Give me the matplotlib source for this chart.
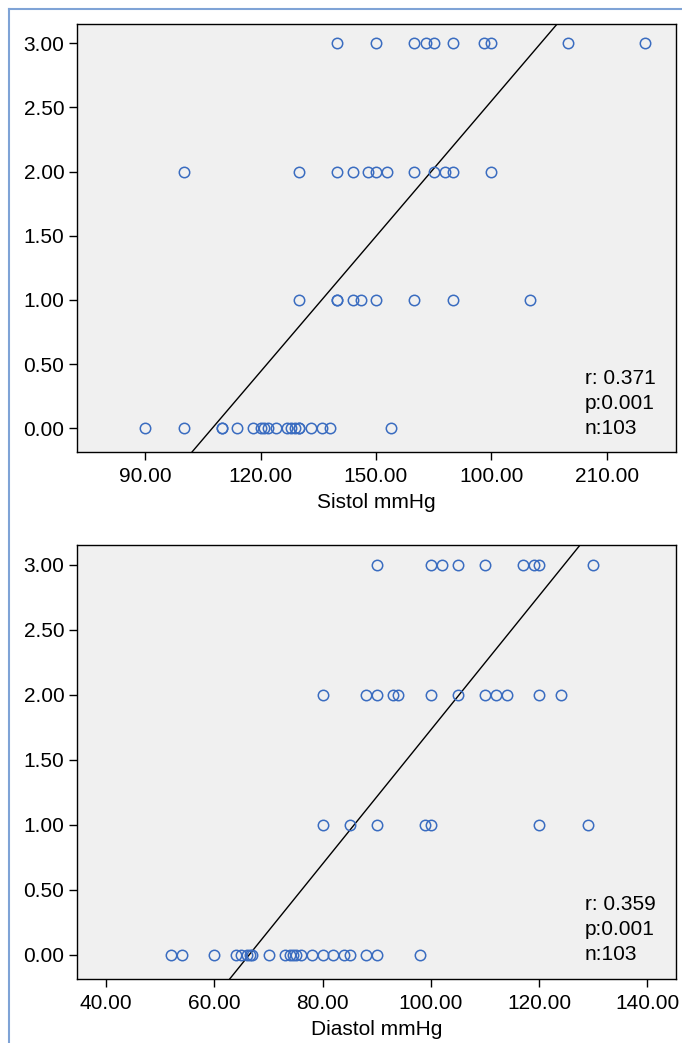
import matplotlib
matplotlib.use('Agg')
import matplotlib.pyplot as plt
from matplotlib.lines import Line2D
import numpy as np

plt.rcParams['font.family'] = ['Liberation Sans', 'DejaVu Sans']

# Sistol (x) vs grade (y), visible points only
sis_x = [90, 100, 110, 110, 114, 118, 120, 121, 122, 124, 127, 128, 129, 130, 130, 133, 136, 138, 154,
         130, 140, 140, 144, 146, 150, 160, 170, 190,
         100, 130, 140, 144, 148, 150, 153, 160, 165, 168, 170, 180,
         140, 150, 160, 163, 165, 170, 178, 180, 200, 220]
sis_y = [0] * 19 + [1] * 9 + [2] * 12 + [3] * 10
sis_ticks = [90, 120, 150, 180, 210]
sis_ticklabels = ['90.00', '120.00', '150.00', '100.00', '210.00']
sis_fit = (0.03514, -3.776)  # slope, intercept
sis_stats = ['r: 0.371', 'p:0.001', 'n:103']

# Diastol (x) vs grade (y)
dia_x = [52, 54, 60, 64, 65, 66, 66.5, 67, 70, 73, 74, 74.5, 75, 76, 78, 80, 82, 84, 85, 88, 90, 98,
         80, 85, 90, 99, 100, 120, 129,
         80, 88, 90, 93, 94, 100, 105, 110, 112, 114, 120, 124,
         90, 100, 102, 105, 110, 117, 119, 120, 130]
dia_y = [0] * 22 + [1] * 7 + [2] * 12 + [3] * 9
dia_ticks = [40, 60, 80, 100, 120, 140]
dia_ticklabels = ['40.00', '60.00', '80.00', '100.00', '120.00', '140.00']
dia_fit = (0.0515, -3.42)
dia_stats = ['r: 0.359', 'p:0.001', 'n:103']

y_ticks = [0, 0.5, 1, 1.5, 2, 2.5, 3]
y_ticklabels = ['%.2f' % v for v in y_ticks]

W, H = 682, 1043
fig = plt.figure(figsize=(W / 100, H / 100), dpi=100)


def panel(rect, xs, ys, xlim, ticks, ticklabels, fit, stats, xlabel):
    ax = fig.add_axes(rect)
    ax.set_facecolor('#f0f0f0')
    ax.plot(xs, ys, 'o', mfc='none', mec='#3a6cc0', ms=7.5, mew=1.1, zorder=3)
    xx = np.array(xlim)
    ax.plot(xx, fit[0] * xx + fit[1], color='black', lw=1.0, zorder=2)
    ax.set_xlim(*xlim)
    ax.set_ylim(-0.185, 3.15)
    ax.set_xticks(ticks)
    ax.set_xticklabels(ticklabels)
    ax.set_yticks(y_ticks)
    ax.set_yticklabels(y_ticklabels)
    ax.tick_params(direction='out', length=6, width=1, labelsize=15, pad=3)
    ax.tick_params(axis='x', pad=5)
    for s in ax.spines.values():
        s.set_linewidth(1.0)
    ax.set_xlabel(xlabel, fontsize=15, labelpad=5)
    trans = ax.get_yaxis_transform()
    for i, t in enumerate(stats):
        ax.text(0.848, 0.39 - i * 0.195, t, transform=trans, fontsize=15,
                va='center', ha='left')
    return ax


panel([77 / W, 1 - 452 / H, 599 / W, 428 / H], sis_x, sis_y, (72.3, 228),
      sis_ticks, sis_ticklabels, sis_fit, sis_stats, 'Sistol mmHg')
panel([77 / W, 1 - 979 / H, 599 / W, 434 / H], dia_x, dia_y, (34.6, 145.3),
      dia_ticks, dia_ticklabels, dia_fit, dia_stats, 'Diastol mmHg')

# light blue frame on top and left
fx, fy = 8.5 / W, 1 - 8.5 / H
fig.add_artist(Line2D([fx, fx], [0, fy], color='#7fa3d6', lw=1.5))
fig.add_artist(Line2D([fx, 1], [fy, fy], color='#7fa3d6', lw=1.5))

fig.savefig('out.png', dpi=100)
